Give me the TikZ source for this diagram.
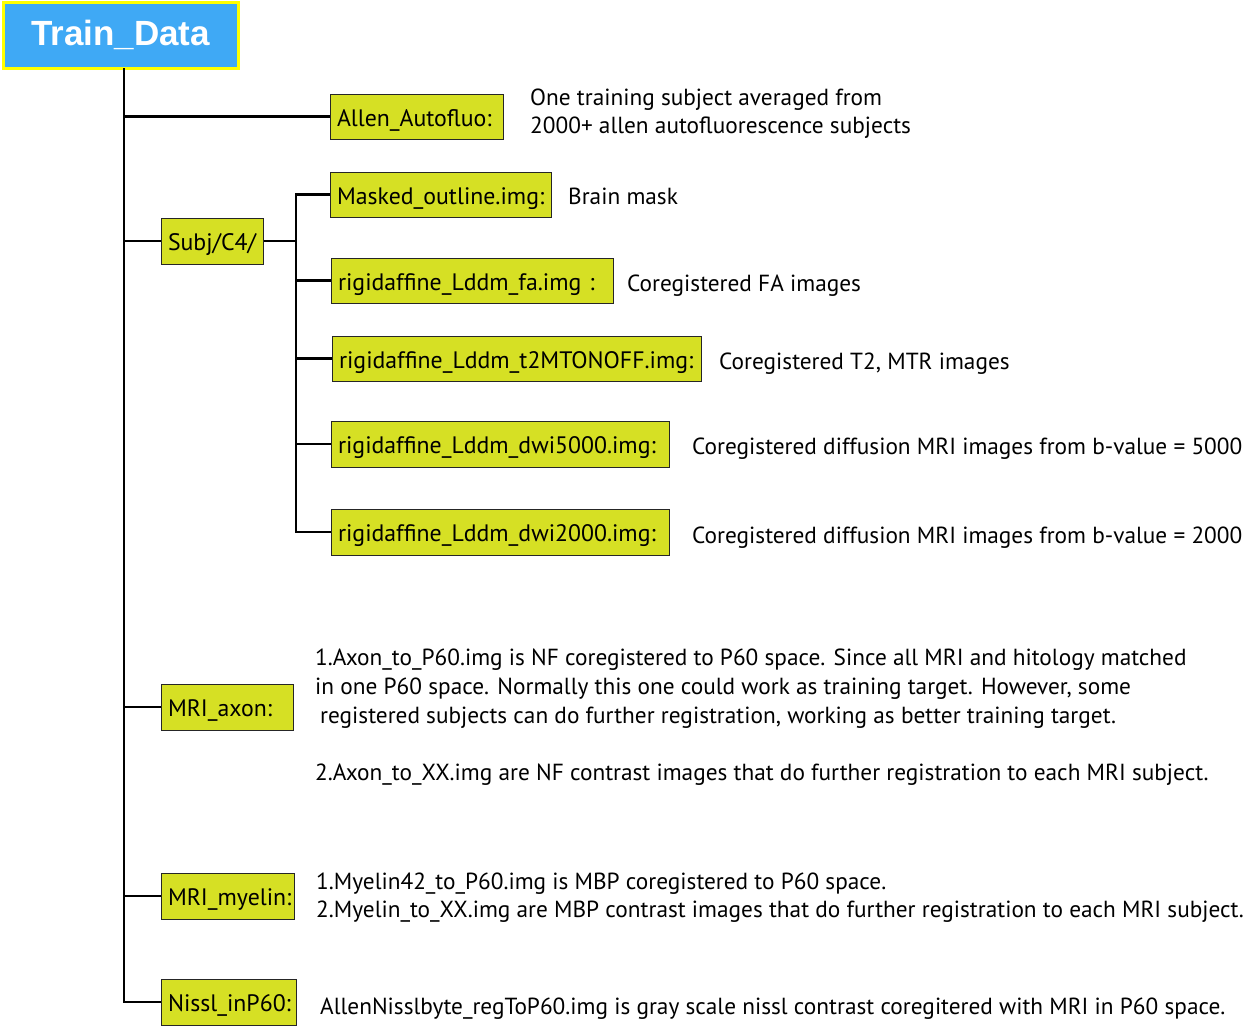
\documentclass[tikz,border=0pt]{standalone}
\usepackage{fontspec}
\setmainfont{PT Sans}
\newfontfamily\titlefont{Liberation Sans}
\definecolor{boxfill}{RGB}{214,224,36}
\definecolor{titleblue}{RGB}{63,169,245}
\definecolor{titleyellow}{RGB}{255,255,0}
\begin{document}
\begin{tikzpicture}[x=1pt,y=-1pt,
  box/.style={draw=black!85, line width=1pt, fill=boxfill, inner xsep=7pt, inner ysep=0pt, text width=#1-14pt, align=left, text height=22pt, text depth=3pt, minimum height=45pt, font=\fontsize{23.8}{28}\selectfont},
  desc/.style={anchor=base west, inner sep=0pt, font=\fontsize{23.3}{28}\selectfont},
  titlebox/.style={draw=titleyellow, line width=3pt, fill=titleblue, text=white, inner sep=0pt, minimum width=235pt, minimum height=66pt, font=\titlefont\bfseries\fontsize{35}{40}\selectfont},
  branch/.style={line width=2.6pt},
  trunk/.style={line width=2pt}]
\useasboundingbox (0,0) rectangle (1244,1026);
\node[titlebox] (title) at (120.5,35) {Train\_Data};
\node[box=173pt] (allen) at (416.5,116.5) {Allen\_Autofluo:};
\node[box=102pt, minimum height=46pt] (subj) at (212,241) {Subj/C4/};
\node[box=221pt] (masked) at (440.5,194.5) {Masked\_outline.img:};
\node[box=282pt] (fa) at (472,280.5) {rigidaffine\_Lddm\_fa.img :};
\node[box=369pt] (t2) at (516.5,358.5) {rigidaffine\_Lddm\_t2MTONOFF.img:};
\node[box=338pt, minimum height=46pt] (d5) at (500,444) {rigidaffine\_Lddm\_dwi5000.img:};
\node[box=338pt, minimum height=46pt] (d2) at (500,532) {rigidaffine\_Lddm\_dwi2000.img:};
\node[box=132pt, minimum height=46pt] (axon) at (227,707) {MRI\_axon:};
\node[box=133pt, minimum height=46pt] (myelin) at (227.5,896) {MRI\_myelin:};
\node[box=135pt, minimum height=46pt] (nissl) at (228.5,1002) {Nissl\_inP60:};
% descriptions
\node[desc] (da1) at (530,105) {One training subject averaged from};
\node[desc] (da2) at (530,133) {2000+ allen autofluorescence subjects};
\node[desc] (dm) at (568,204) {Brain mask};
\node[desc] (dfa) at (627,291) {Coregistered FA images};
\node[desc] (dt2) at (719,369) {Coregistered T2, MTR images};
\node[desc] (dd5) at (692,454) {Coregistered diffusion MRI images from b-value = 5000};
\node[desc] (dd2) at (692,543) {Coregistered diffusion MRI images from b-value = 2000};
\node[desc] (dx1) at (315,665) {1.Axon\_to\_P60.img is NF coregistered to P60 space. Since all MRI and hitology matched};
\node[desc] (dx2) at (315,694) {in one P60 space. Normally this one could work as training target. However, some};
\node[desc] (dx3) at (320,723) {registered subjects can do further registration, working as better training target.};
\node[desc] (dx4) at (315,780) {2.Axon\_to\_XX.img are NF contrast images that do further registration to each MRI subject.};
\node[desc] (dy1) at (316,889) {1.Myelin42\_to\_P60.img is MBP coregistered to P60 space.};
\node[desc] (dy2) at (316,917) {2.Myelin\_to\_XX.img are MBP contrast images that do further registration to each MRI subject.};
\node[desc] (dn) at (320,1014) {AllenNisslbyte\_regToP60.img is gray scale nissl contrast coregitered with MRI in P60 space.};
% trunks
\coordinate (tt) at (124,68);
\coordinate (tb) at (124,1003);
\coordinate (st) at (296,193);
\coordinate (sb) at (296,533);
\draw[trunk] (tt) -- (tb);
\draw[trunk] (st) -- (sb);
% branches
\draw[branch] (allen.west -| tt) -- (allen.west);
\draw[branch] (subj.west -| tt) -- (subj.west);
\draw[branch] (axon.west -| tt) -- (axon.west);
\draw[branch] (myelin.west -| tt) -- (myelin.west);
\draw[branch] (nissl.west -| tt) -- (nissl.west);
\draw[branch] (subj.east) -- (subj.east -| st);
\draw[branch] (masked.west -| st) -- (masked.west);
\draw[branch] (fa.west -| st) -- (fa.west);
\draw[branch] (t2.west -| st) -- (t2.west);
\draw[branch] (d5.west -| st) -- (d5.west);
\draw[branch] (d2.west -| st) -- (d2.west);
\end{tikzpicture}
\end{document}
